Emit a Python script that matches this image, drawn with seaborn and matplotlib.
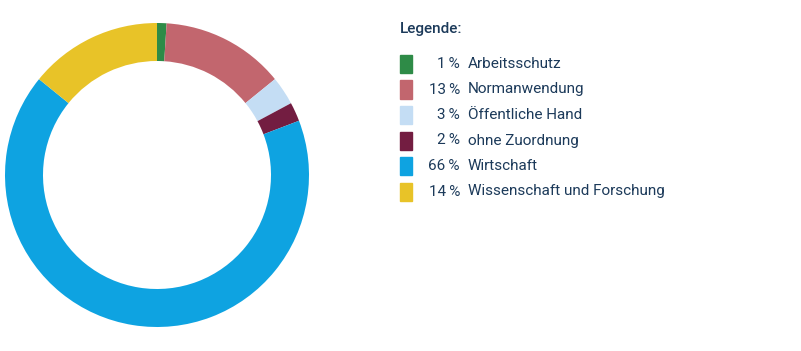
import matplotlib
matplotlib.use("Agg")
import matplotlib.pyplot as plt
import seaborn as sns
from matplotlib.patches import Rectangle

categories = ["Arbeitsschutz", "Normanwendung", "Öffentliche Hand",
              "ohne Zuordnung", "Wirtschaft", "Wissenschaft und Forschung"]
shares = [1, 13, 3, 2, 66, 14]
colors = ["#2e8b47", "#c2666e", "#c4ddf4", "#731d41", "#0ea3e1", "#e8c328"]
title = "Legende:"

sns.set_style("white")
plt.rcParams["font.family"] = ["Roboto", "DejaVu Sans"]
txt = "#1c3a5a"

W, H = 801, 351
fig = plt.figure(figsize=(W / 100, H / 100), dpi=100)

# donut
ax = fig.add_axes([5 / W, 24 / H, 304 / W, 304 / H])
ax.pie(shares, colors=colors, startangle=90, counterclock=False,
       radius=1, wedgeprops=dict(width=0.25, linewidth=0))
ax.set_xlim(-1, 1)
ax.set_ylim(-1, 1)
ax.set_aspect("equal")
ax.axis("off")

# legend
fig.text(400 / W, 1 - 29 / H, title, color=txt, fontsize=11,
         fontweight="medium", ha="left", va="center")
row0, step = 64, 25.5
for i, (cat, val, col) in enumerate(zip(categories, shares, colors)):
    yc = row0 + i * step
    fig.patches.append(Rectangle((400 / W, 1 - (yc + 9) / H), 12 / W, 18 / H,
                                 transform=fig.transFigure, color=col))
    fig.text(460 / W, 1 - yc / H, f"{val}\u2009%", color=txt, fontsize=11,
             ha="right", va="center")
    fig.text(468 / W, 1 - yc / H, cat, color=txt, fontsize=11,
             ha="left", va="center")

fig.savefig("out.png", dpi=100)
